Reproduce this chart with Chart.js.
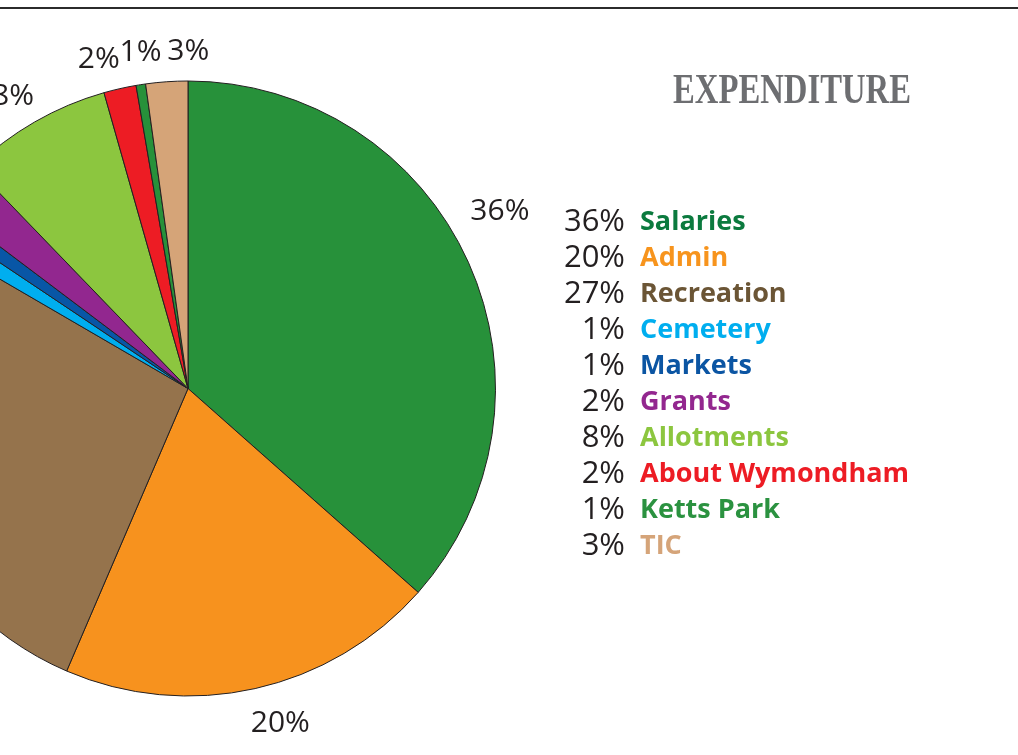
<!DOCTYPE html>
<html>
<head>
<meta charset="utf-8">
<script src="https://cdn.jsdelivr.net/npm/chart.js@4/dist/chart.umd.min.js"></script>
<style>
  html, body { margin: 0; padding: 0; background: #fff; overflow: hidden; }
  body { width: 1018px; height: 755px; position: relative; }
  #rule { position: absolute; left: 0; top: 7px; width: 1018px; height: 2px; background: #2b2b2b; }
  #wrap { position: absolute; left: -220px; top: 0; width: 1238px; height: 755px; }
</style>
</head>
<body>
<div id="rule"></div>
<div id="wrap"><canvas id="expenditure"></canvas></div>
<script>
// slices, clockwise from 12 o'clock
const categories = ['Salaries', 'Admin', 'Recreation', 'Cemetery', 'Markets', 'Grants', 'Allotments', 'About Wymondham', 'Ketts Park', 'TIC']
const shares = [36.5, 19.9, 26.9, 1.0, 0.9, 2.5, 7.8, 1.7, 0.5, 2.2]
const percentLabels = ['36%', '20%', '27%', '1%', '1%', '2%', '8%', '2%', '1%', '3%']
const sliceColors = ['#27913a', '#f7921e', '#95734c', '#00aeef', '#0856a6', '#92278f', '#8cc63f', '#ed1c24', '#27913a', '#d5a478']
const legendColors = ['#0b7a3e', '#f7941d', '#6b5535', '#00aeef', '#0b55a3', '#93278f', '#8cc63f', '#ed1c24', '#2b9240', '#d5a479']
const chartTitle = 'EXPENDITURE'

// small nudges (angle in deg, distance past the rim in px) so outside labels sit like the original
const labelNudge = [-5.3, -2.8, 0, 0, 0, 0, -1, -2.4, 0.8, 4]
const labelPush = [51, 40, 40, 40, 40, 40, 33, 33, 32, 30]
const SHIFT = 220 // canvas starts 220px left of the page

const outsideLabels = {
  id: 'outsideLabels',
  afterDraw(chart) {
    const ctx = chart.ctx
    const arcs = chart.getDatasetMeta(0).data
    ctx.save()
    ctx.font = '30px "Open Sans"'
    ctx.fillStyle = '#231f20'
    ctx.textAlign = 'center'
    ctx.textBaseline = 'middle'
    arcs.forEach((arc, i) => {
      const mid = (arc.startAngle + arc.endAngle) / 2 + labelNudge[i] * Math.PI / 180
      const r = arc.outerRadius + labelPush[i]
      ctx.fillText(percentLabels[i], arc.x + Math.cos(mid) * r, arc.y + Math.sin(mid) * r)
    })

    // title, a condensed bold serif
    ctx.font = 'bold 42px "Liberation Serif"'
    ctx.fillStyle = '#6d6e71'
    ctx.textBaseline = 'alphabetic'
    const w = ctx.measureText(chartTitle).width
    ctx.save()
    ctx.translate(792 + SHIFT, 103)
    ctx.scale(238 / w, 1)
    ctx.fillText(chartTitle, 0, 0)
    ctx.restore()

    // legend list
    ctx.textBaseline = 'middle'
    categories.forEach((name, i) => {
      const y = 222 + i * 36
      ctx.font = '31px "Open Sans"'
      ctx.fillStyle = '#231f20'
      ctx.textAlign = 'right'
      ctx.fillText(percentLabels[i], 625 + SHIFT, y)
      ctx.font = 'bold 27px "Open Sans"'
      ctx.fillStyle = legendColors[i]
      ctx.textAlign = 'left'
      ctx.fillText(name, 640 + SHIFT, y)
    })
    ctx.restore()
  }
}

let chartEle = document.getElementById('expenditure').getContext('2d')
let chart = new Chart(chartEle, {
  type: 'pie',
  data: {
    labels: categories,
    datasets: [
      {
        data: shares,
        backgroundColor: sliceColors,
        borderColor: '#231f20',
        borderWidth: 1,
      },
    ],
  },
  options: {
    responsive: true,
    maintainAspectRatio: false,
    animation: false,
    layout: {
      padding: { left: 100, top: 80, right: 522, bottom: 58 },
    },
    plugins: {
      legend: { display: false },
      tooltip: { enabled: false },
      title: { display: false },
    },
  },
  plugins: [outsideLabels],
})
</script>
</body>
</html>
